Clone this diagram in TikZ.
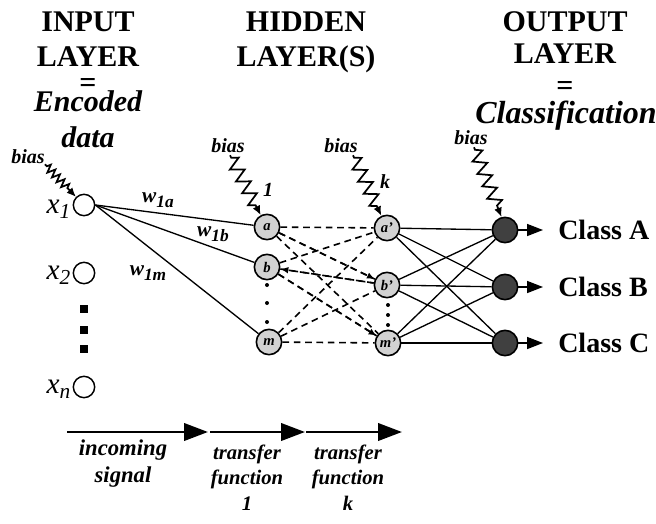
\documentclass[tikz,border=0pt]{standalone}
\usepackage{fontspec}
\setmainfont{Liberation Serif}
\usetikzlibrary{arrows.meta, positioning, decorations.pathmorphing, calc}

\newcommand{\fsz}[1]{\fontsize{#1}{#1}\selectfont}
\newcommand{\xlab}[1]{{\fsz{22}\itshape x}\raisebox{-4pt}{\fsz{16}\itshape #1}}
\newcommand{\wlab}[1]{{\fsz{16}\bfseries\itshape w}\raisebox{-4pt}{\fsz{13}\bfseries\itshape #1}}

\begin{document}
\begin{tikzpicture}[
    x=0.75pt, y=-0.75pt,
    title/.style={anchor=base, inner sep=0pt, font=\fsz{22.5}\bfseries},
    subtitle/.style={title, font=\fsz{22.5}\bfseries\itshape},
    innode/.style={circle, draw, line width=1.1pt, minimum size=16pt, inner sep=0pt},
    hidnode/.style={circle, draw, line width=1.2pt, fill=gray!35, minimum size=19pt,
                    inner sep=0pt, font=\fsz{11}\bfseries\itshape},
    outnode/.style={hidnode, fill=black!75},
    link/.style={line width=1pt},
    dlink/.style={line width=1.2pt, dash pattern=on 5pt off 3.5pt},
    dtip/.style={-{Latex[length=6pt,width=5pt]}},
    biasarrow/.style={line width=1.3pt, -{Latex[length=7pt,width=6pt]}, decorate,
        decoration={zigzag, amplitude=5pt, segment length=10pt, pre length=2pt, post length=7pt}},
    biaslabel/.style={font=\fsz{15}\bfseries\itshape, inner sep=0pt},
    classarrow/.style={line width=1.2pt, -{Triangle[length=12pt,width=9pt]}},
    classlabel/.style={anchor=west, inner sep=0pt, font=\fsz{21}\bfseries},
    flow/.style={line width=2.2pt, -{Triangle[length=18pt,width=13pt]}},
    flowlabel/.style={anchor=base, align=center, inner sep=0pt},
]
\useasboundingbox (0,0) rectangle (656,524);

% titles
\node[title] (inT1) at (88,32) {INPUT};
\node[title] (inT2) at (88,67) {LAYER};
\node[title, anchor=center] (inT3) at (88,85) {=};
\node[subtitle] (inT4) at (88,112) {Encoded};
\node[subtitle] (inT5) at (88,147) {data};
\node[title] (hdT1) at (306,32) {HIDDEN};
\node[title] (hdT2) at (306,67) {LAYER(S)};
\node[title] (outT1) at (565,32) {OUTPUT};
\node[title] (outT2) at (565,64) {LAYER};
\node[title, anchor=center] (outT3) at (565,88) {=};
\node[subtitle, font=\fsz{24}\bfseries\itshape] (outT4) at (566,124) {Classification};

% input layer
\node[innode] (x1) at (84,205) {};
\node[innode] (x2) at (84,273) {};
\node[innode] (xn) at (84,387) {};
\foreach \y in {309,330,349}
    \fill (80,\y-4) rectangle (88,\y+4);
\node[anchor=base east, inner sep=0pt] (lx1) at ($(x1.west)+(-2,8)$) {\xlab{1}};
\node[anchor=base east, inner sep=0pt] (lx2) at ($(x2.west)+(-2,6)$) {\xlab{2}};
\node[anchor=base east, inner sep=0pt] (lxn) at ($(xn.west)+(-2,6)$) {\xlab{n}};

% hidden layer 1
\node[hidnode] (a) at (267,227) {a};
\node[hidnode] (b) at (267,267) {b};
\node[hidnode] (m) at (269,342) {m};
\foreach \y in {285,303,322}
    \fill (267,\y) circle (2);

% hidden layer k
\node[hidnode] (ak) at (387,228) {a'};
\node[hidnode] (bk) at (387,285) {b'};
\node[hidnode] (mk) at (388,343) {m'};
\foreach \y in {305,315,325}
    \fill (388,\y) circle (2);

% output layer
\node[outnode] (oA) at (505,230) {};
\node[outnode] (oB) at (505,287) {};
\node[outnode] (oC) at (505,343) {};

% weights
\foreach \h in {a,b,m}
    \draw[link] (x1.east) -- (\h);
\node[inner sep=0pt] (w1a) at (158,200) {\wlab{1a}};
\node[inner sep=0pt] (w1b) at (213,234) {\wlab{1b}};
\node[inner sep=0pt] (w1m) at (148,273) {\wlab{1m}};

% hidden to hidden
\foreach \s in {a,b,m}
    \foreach \t in {ak,bk,mk}
        \draw[dlink] (\s) -- (\t);
\draw[dlink, dtip] (a) -- (bk);
\draw[dlink, dtip] (bk) -- (b);
\draw[dlink, dtip] (b) -- (mk);

% hidden to output
\foreach \s in {ak,bk,mk}
    \foreach \t in {oA,oB,oC}
        \draw[link] (\s) -- (\t);

% classes
\coordinate (cA) at (543,230);
\coordinate (cB) at (543,287);
\coordinate (cC) at (543,343);
\draw[classarrow] (oA) -- (cA);
\draw[classarrow] (oB) -- (cB);
\draw[classarrow] (oC) -- (cC);
\node[classlabel] (clA) at (558,230) {Class A};
\node[classlabel] (clB) at (558,287) {Class B};
\node[classlabel] (clC) at (558,343) {Class C};

% bias
\node[biaslabel] (bias0) at (28,157) {bias};
\node[biaslabel] (bias1) at (228,146) {bias};
\node[biaslabel] (biask) at (341,146) {bias};
\node[biaslabel] (biaso) at (471,138) {bias};
\draw[biasarrow, decoration={amplitude=3pt, segment length=5pt}] (bias0.south east) -- (x1.135);
\draw[biasarrow] ($(bias1.south)+(2,2)$) -- (a.118);
\draw[biasarrow] ($(biask.south)+(12,2)$) -- (ak.115);
\draw[biasarrow] ($(biaso.south)+(3,2)$) -- (oA.105);
\node[biaslabel] (lb1) at (268,190) {1};
\node[biaslabel] (lbk) at (385,182) {k};

% signal flow
\coordinate (f0) at (67,432);
\coordinate (f1) at (208,432);
\coordinate (f2) at (210,432);
\coordinate (f3) at (305,432);
\coordinate (f4) at (306,432);
\coordinate (f5) at (402,432);
\draw[flow] (f0) -- (f1);
\draw[flow] (f2) -- (f3);
\draw[flow] (f4) -- (f5);
\node[flowlabel, font=\fontsize{17}{20}\selectfont\bfseries\itshape] (sig) at (123,482) {incoming\\signal};
\node[flowlabel, font=\fontsize{15.5}{19}\selectfont\bfseries\itshape] (tf1) at (247,510) {transfer\\function\\1};
\node[flowlabel, font=\fontsize{15.5}{19}\selectfont\bfseries\itshape] (tfk) at (348,510) {transfer\\function\\k};

\end{tikzpicture}
\end{document}
